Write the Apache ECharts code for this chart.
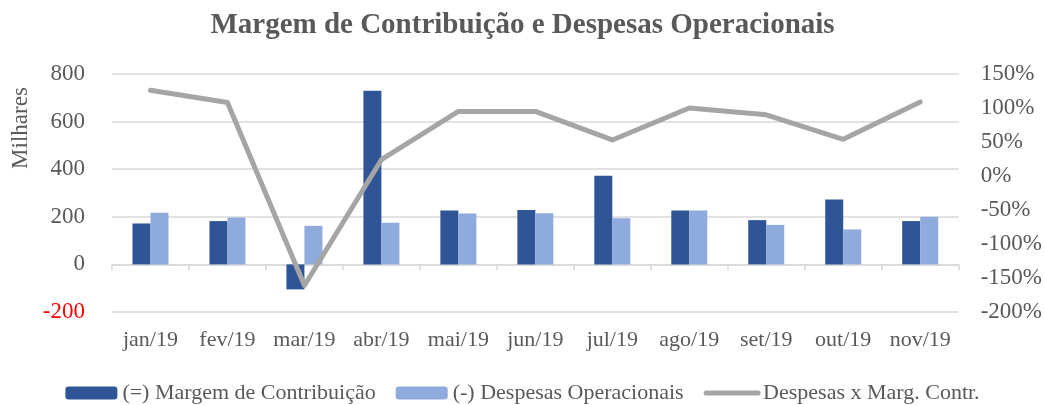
<!DOCTYPE html>
<html>
<head>
<meta charset="utf-8">
<script src="https://cdn.jsdelivr.net/npm/echarts@6/dist/echarts.min.js"></script>
<style>
  html, body { margin: 0; padding: 0; background: #fff; }
  #main { width: 1045px; height: 405px; }
</style>
</head>
<body>
<div id="main"></div>
<script>
// dados do grafico
var meses = ['jan/19', 'fev/19', 'mar/19', 'abr/19', 'mai/19', 'jun/19', 'jul/19', 'ago/19', 'set/19', 'out/19', 'nov/19'];
var margemContribuicao = [172, 182, -105, 730, 226, 229, 373, 226, 186, 273, 182];
var despesasOperacionais = [217, 197, 162, 175, 214, 215, 194, 226, 166, 147, 200];
var despesasXMargem = [1.26, 1.08, -1.61, 0.24, 0.95, 0.95, 0.53, 1.00, 0.90, 0.54, 1.09];

var fonte = '"Liberation Serif", "DejaVu Serif", serif';
var cinza = '#595959';

var myChart = echarts.init(document.getElementById('main'));

var option = {
    animation: false,
    textStyle: { fontFamily: fonte },
    title: {
        text: 'Margem de Contribuição e Despesas Operacionais',
        left: 'center',
        top: 6,
        textStyle: { fontFamily: fonte, fontSize: 29, fontWeight: 'bold', color: cinza }
    },
    legend: {
        top: 377,
        left: 'center',
        itemWidth: 52,
        itemHeight: 13,
        itemGap: 20,
        textStyle: { fontFamily: fonte, fontSize: 22, color: cinza },
        data: [
            '(=) Margem de Contribuição',
            '(-) Despesas Operacionais',
            {
                name: 'Despesas x Marg. Contr.',
                itemStyle: { color: 'rgba(0,0,0,0)', borderWidth: 0 },
                lineStyle: { color: '#a5a5a5', width: 5, cap: 'round' }
            }
        ]
    },
    grid: { left: 112, right: 82, top: 74, bottom: 93 },
    graphic: [{
        type: 'text',
        x: 21,
        y: 128,
        rotation: Math.PI / 2,
        style: {
            text: 'Milhares',
            fontFamily: fonte,
            fontSize: 23,
            fill: cinza,
            align: 'center',
            verticalAlign: 'middle'
        }
    }],
    xAxis: [
        {
            type: 'category',
            data: meses,
            axisLine: { show: false, onZero: false },
            axisTick: { show: false },
            axisLabel: { interval: 0, margin: 17, fontFamily: fonte, fontSize: 22, color: cinza }
        },
        {
            type: 'category',
            data: meses,
            position: 'bottom',
            axisLine: { show: true, onZero: true, lineStyle: { color: '#d9d9d9', width: 1.5 } },
            axisTick: { show: true, interval: 0, length: 6, lineStyle: { color: '#d9d9d9', width: 1.5 } },
            axisLabel: { show: false }
        }
    ],
    yAxis: [
        {
            type: 'value',
            min: -200,
            max: 800,
            interval: 200,
            axisLine: { show: false },
            axisTick: { show: false },
            splitLine: { lineStyle: { color: '#d9d9d9', width: 1.5 } },
            axisLabel: {
                margin: 27,
                fontFamily: fonte,
                fontSize: 23,
                color: function (v) { return v < 0 ? '#ff0000' : cinza; }
            }
        },
        {
            type: 'value',
            min: -2,
            max: 1.5,
            interval: 0.5,
            axisLine: { show: false },
            axisTick: { show: false },
            splitLine: { show: false },
            axisLabel: {
                margin: 22,
                fontFamily: fonte,
                fontSize: 23,
                color: cinza,
                formatter: function (v) { return Math.round(v * 100) + '%'; }
            }
        }
    ],
    series: [
        {
            name: '(=) Margem de Contribuição',
            type: 'bar',
            barWidth: 18,
            barGap: '0%',
            itemStyle: { color: '#2f5597' },
            data: margemContribuicao
        },
        {
            name: '(-) Despesas Operacionais',
            type: 'bar',
            barWidth: 18,
            barGap: '0%',
            itemStyle: { color: '#8faadc' },
            data: despesasOperacionais
        },
        {
            name: 'Despesas x Marg. Contr.',
            type: 'line',
            yAxisIndex: 1,
            symbol: 'none',
            itemStyle: { color: '#a5a5a5' },
            lineStyle: { color: '#a5a5a5', width: 5, cap: 'round', join: 'round' },
            data: despesasXMargem
        }
    ]
};

myChart.setOption(option);
</script>
</body>
</html>
